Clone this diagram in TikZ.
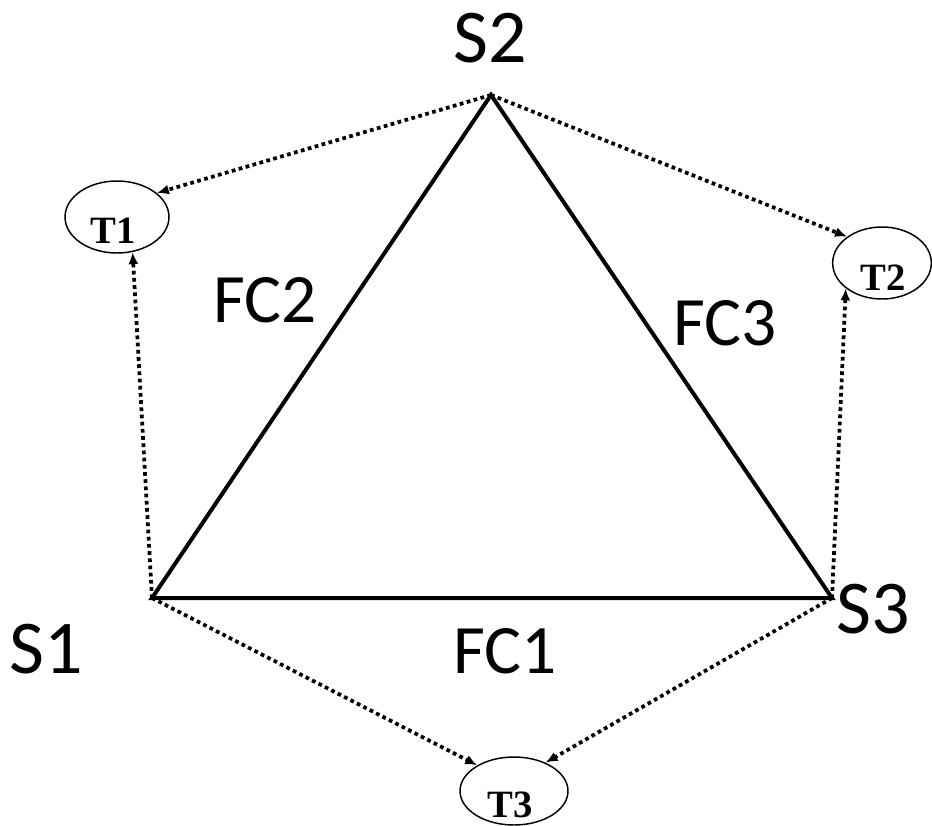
\documentclass[tikz,border=0pt]{standalone}
\usepackage{fontspec}
\setmainfont{Carlito}
\newfontfamily\tfont{Liberation Serif}
\usetikzlibrary{shapes.geometric,arrows.meta}
\tikzset{
  big/.style={inner sep=0pt, anchor=base, font=\fontsize{52}{60}\selectfont},
  bigs/.style={inner sep=0pt, anchor=base, font=\fontsize{57}{64}\selectfont},
  tlab/.style={inner sep=0pt, font=\tfont\bfseries\fontsize{29}{32}\selectfont},
  tell/.style={draw, ellipse, line width=1.1pt, inner sep=0pt},
  edge/.style={line width=3pt},
  dots/.style={line width=2.8pt, dash pattern=on 2.8pt off 2.6pt, -{Latex[length=9pt,width=7.5pt]}},
}
\begin{document}
\begin{tikzpicture}[x=0.75pt,y=-0.75pt]
\useasboundingbox (0,0) rectangle (932,825);
\coordinate (S1v) at (152,598);
\coordinate (S2v) at (491,95);
\coordinate (S3v) at (832,598);
\node[tell, minimum width=78pt, minimum height=54pt] (T1) at (117,217) {};
\node[tell, minimum width=74pt, minimum height=54pt] (T2) at (882,263) {};
\node[tell, minimum width=81pt, minimum height=51pt] (T3) at (514,791) {};
\node[tlab] (t1) at (113,231) {T1};
\node[tlab] (t2) at (883,278) {T2};
\node[tlab] (t3) at (510,805) {T3};
\draw[edge] (S1v) -- (S2v) -- (S3v) -- cycle;
\draw[dots] (S2v) -- (T1.31);
\draw[dots] (S1v) -- (T1.-66);
\draw[dots] (S2v) -- (T2.143);
\draw[dots] (S3v) -- (T2.215);
\draw[dots] (S1v) -- (T3.145);
\draw[dots] (S3v) -- (T3.42);
\node[bigs] (s2) at (490,62) {S2};
\node[bigs] (s1) at (46,673) {S1};
\node[bigs] (s3) at (873,633) {S3};
\node[big] (fc1) at (505,673) {FC1};
\node[big] (fc2) at (265,322) {FC2};
\node[big] (fc3) at (725,345) {FC3};
\end{tikzpicture}
\end{document}
